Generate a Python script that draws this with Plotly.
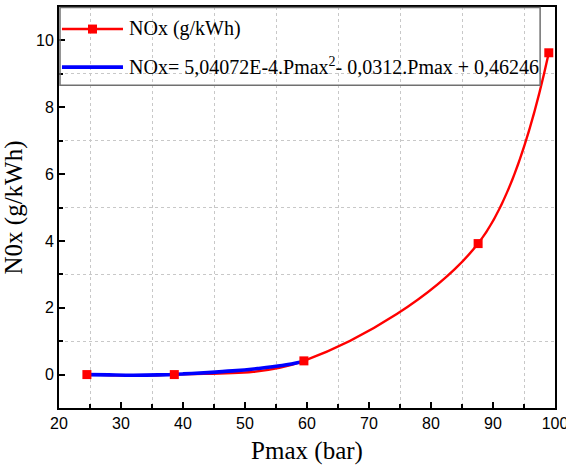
import plotly.graph_objects as go

# Measured NOx emissions versus peak cylinder pressure
pmax = [24.5, 38.6, 59.5, 87.6, 99.0]
nox = [0.0, 0.0, 0.41, 3.92, 9.63]

# Quadratic fit NOx = f(Pmax), sampled over the low-pressure range
fit_pmax = [24.5, 28, 32, 36, 40, 44, 48, 52, 56, 59.5]
fit_nox = [0.0, -0.01, -0.02, -0.01, 0.02, 0.06, 0.11, 0.18, 0.27, 0.39]

legend_labels = [
    "NOx (g/kWh)",
    "NOx= 5,04072E-4.Pmax<sup>2</sup>- 0,0312.Pmax + 0,46246",
]

serif = "Liberation Serif, Times New Roman, serif"
sans = "Liberation Sans, Arial, sans-serif"
RED = "#ff0000"
BLUE = "#0000ff"

fig = go.Figure()
fig.add_trace(go.Scatter(
    x=pmax, y=nox, mode="lines", name=legend_labels[0], showlegend=False,
    line=dict(color=RED, width=2.4, shape="spline", smoothing=1.0),
))
fig.add_trace(go.Scatter(
    x=fit_pmax, y=fit_nox, mode="lines", name=legend_labels[1], showlegend=False,
    line=dict(color=BLUE, width=3.6, shape="spline"),
))
fig.add_trace(go.Scatter(
    x=pmax, y=nox, mode="markers", showlegend=False,
    marker=dict(symbol="square", size=9, color=RED),
))

axis_common = dict(
    showline=True, linecolor="black", linewidth=2, mirror=True,
    ticks="inside", ticklen=6, tickwidth=1.5, tickcolor="black",
    showgrid=False, zeroline=False, ticklabeloverflow="allow", automargin=False,
    tickfont=dict(family=sans, size=16, color="black"),
)
minor_common = dict(ticks="inside", ticklen=4, tickcolor="black",
                    showgrid=True, gridcolor="#c8c8c8", griddash="dot", gridwidth=1)

fig.update_xaxes(
    range=[20, 100.0001], dtick=10, tick0=20,
    minor=dict(dtick=5, **minor_common),
    title=dict(text="Pmax (bar)", font=dict(family=serif, size=25, color="black"), standoff=10),
    **axis_common,
)
fig.update_yaxes(
    range=[-1, 11], dtick=2, tick0=0,
    minor=dict(dtick=1, **minor_common),
    title=dict(text="N0x (g/kWh)", font=dict(family=serif, size=25, color="black"), standoff=6),
    **axis_common,
)

# Legend box drawn in plot-area coordinates
shapes = [
    dict(type="rect", xref="paper", yref="paper", x0=0.002, x1=0.970, y0=0.805, y1=0.999,
         line=dict(color="#707070", width=1.5), fillcolor="rgba(0,0,0,0)"),
    dict(type="line", xref="paper", yref="paper", x0=0.006, x1=0.129, y0=0.945, y1=0.945,
         line=dict(color=RED, width=2.4)),
    dict(type="rect", xref="paper", yref="paper", xsizemode="pixel", ysizemode="pixel",
         xanchor=0.0675, yanchor=0.945, x0=-4.5, x1=4.5, y0=-4.5, y1=4.5,
         line=dict(width=0), fillcolor=RED),
    dict(type="line", xref="paper", yref="paper", x0=0.006, x1=0.129, y0=0.850, y1=0.850,
         line=dict(color=BLUE, width=3.6)),
]
annotations = [
    dict(xref="paper", yref="paper", x=0.137, y=0.947, xanchor="left", yanchor="middle",
         text=legend_labels[0], showarrow=False,
         font=dict(family=serif, size=20, color="black")),
    dict(xref="paper", yref="paper", x=0.137, y=0.852, xanchor="left", yanchor="middle",
         text=legend_labels[1], showarrow=False,
         font=dict(family=serif, size=20, color="black")),
]

fig.update_layout(
    width=566, height=465,
    margin=dict(l=59, r=11, t=7, b=57),
    plot_bgcolor="white", paper_bgcolor="white",
    showlegend=False, shapes=shapes, annotations=annotations,
)

fig.write_html("out.html")
